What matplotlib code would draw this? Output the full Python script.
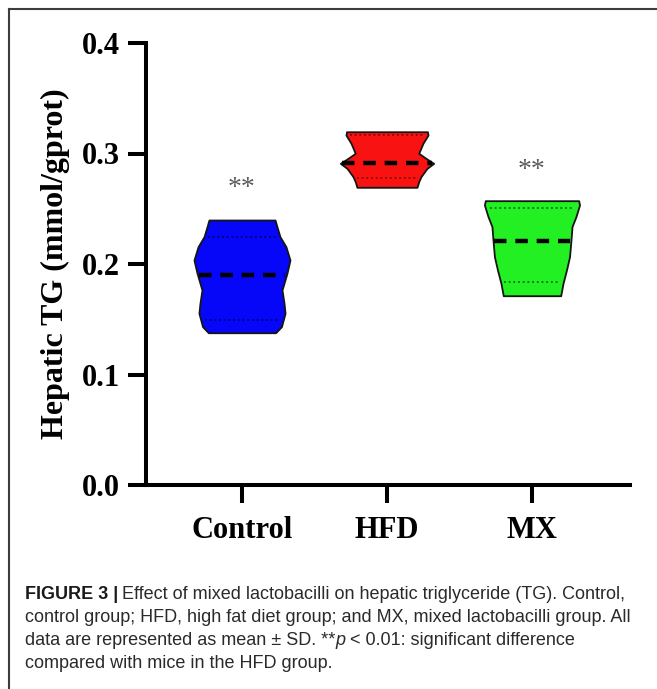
import numpy as np
import matplotlib
matplotlib.use("Agg")
import matplotlib.pyplot as plt
from matplotlib.lines import Line2D

groups = ["Control", "HFD", "MX"]
fillColors = ["#0606f8", "#f81212", "#22f022"]
dotColors = ["#00006a", "#8a0000", "#007400"]

# violin outlines: level (mmol/gprot) and half width (category units)
controlLevels = [0.2398, 0.2338, 0.2247, 0.2157, 0.2036, 0.1916, 0.1765, 0.1644, 0.1554, 0.1433, 0.1378]
controlHalfWidth = [0.228, 0.241, 0.262, 0.303, 0.331, 0.310, 0.276, 0.290, 0.297, 0.272, 0.232]
hfdLevels = [0.3197, 0.3167, 0.3092, 0.3002, 0.2956, 0.2911, 0.2866, 0.2790, 0.2745, 0.2694]
hfdHalfWidth = [0.279, 0.283, 0.248, 0.219, 0.269, 0.322, 0.276, 0.234, 0.219, 0.207]
mxLevels = [0.2573, 0.2534, 0.2428, 0.2338, 0.2217, 0.2066, 0.1946, 0.1825, 0.1713]
mxHalfWidth = [0.322, 0.328, 0.303, 0.276, 0.269, 0.259, 0.238, 0.214, 0.198]

medians = [0.190, 0.291, 0.221]
lowerQuartiles = [0.149, 0.2775, 0.184]
upperQuartiles = [0.2245, 0.3167, 0.2507]
starLabels = ["**", "", "**"]
starY = [0.262, 0.0, 0.279]
yTicks = [0.0, 0.1, 0.2, 0.3, 0.4]

levels = [controlLevels, hfdLevels, mxLevels]
halfWidths = [controlHalfWidth, hfdHalfWidth, mxHalfWidth]

plt.rcParams['font.family'] = ['Liberation Serif', 'DejaVu Serif']
plt.rcParams['font.weight'] = 'bold'

W, H = 657, 689
fig = plt.figure(figsize=(W / 100, H / 100), dpi=100)
ax = fig.add_axes([146 / W, 1 - 485 / H, 484 / W, 442 / H])

for i in range(len(groups)):
    lev = np.array(levels[i])
    hw = np.array(halfWidths[i])
    ax.fill_betweenx(lev, i - hw, i + hw, facecolor=fillColors[i], edgecolor="#151515",
                     linewidth=1.3, joinstyle='round', zorder=2)
    for q in (lowerQuartiles[i], upperQuartiles[i]):
        w = np.interp(q, lev[::-1], hw[::-1]) * 0.9
        ax.plot([i - w, i + w], [q, q], color=dotColors[i], lw=1.3, linestyle=(0, (1, 1.6)), zorder=3)
    w = np.interp(medians[i], lev[::-1], hw[::-1]) * 0.97
    ax.plot([i - w, i + w], [medians[i], medians[i]], color="black", lw=3.2,
            linestyle=(0, (2.8, 2.0)), dash_capstyle='butt', zorder=4)
    if starLabels[i]:
        ax.text(i, starY[i], starLabels[i], ha='center', va='baseline', fontsize=20,
                fontweight='normal', color='#5a5a5a')

ax.set_xlim(-0.662, 2.676)
ax.set_ylim(0, 0.4)
ax.set_xticks(range(len(groups)))
ax.set_xticklabels(groups)
ax.set_yticks(yTicks)
ax.set_yticklabels([f"{v:.1f}" for v in yTicks])
for side in ("top", "right"):
    ax.spines[side].set_visible(False)
for side in ("left", "bottom"):
    ax.spines[side].set_linewidth(2.9)
    ax.spines[side].set_capstyle('projecting')
ax.tick_params(axis="both", which="both", direction="out", length=13, width=2.9, labelsize=22)
ax.tick_params(axis="y", pad=5.5)
ax.tick_params(axis="x", pad=9)
ax.set_ylabel("Hepatic TG (mmol/gprot)", fontsize=23, fontweight='bold')
ax.yaxis.set_label_coords(-0.157, 0.5)

# panel frame
fig.add_artist(Line2D([8.5 / W, 1], [1 - 8.5 / H, 1 - 8.5 / H], transform=fig.transFigure,
                      color="#3c3c3c", lw=1.5))
fig.add_artist(Line2D([8.5 / W, 8.5 / W], [0, 1 - 8.5 / H], transform=fig.transFigure,
                      color="#3c3c3c", lw=1.5))

# caption
capFont = dict(family=['Liberation Sans Narrow', 'Liberation Sans', 'DejaVu Sans'], fontsize=13, color="#2a2a2a")
def chain(prev, txt, gap=0, **kw):
    style = dict(capFont, fontweight='normal')
    style.update(kw)
    return ax.annotate(txt, xy=(1, 0), xycoords=prev, xytext=(gap, 0), textcoords='offset points',
                       ha='left', va='bottom', annotation_clip=False, **style)

baselines = [599, 622, 645, 668]
t = fig.text(25 / W, 1 - baselines[0] / H, "FIGURE 3 |", ha='left', va='baseline',
             **dict(capFont, fontweight='bold', color="#1a1a1a"))
chain(t, "Effect of mixed lactobacilli on hepatic triglyceride (TG). Control,", gap=3)
fig.text(25 / W, 1 - baselines[1] / H,
         "control group; HFD, high fat diet group; and MX, mixed lactobacilli group. All",
         ha='left', va='baseline', **dict(capFont, fontweight='normal'))
t = fig.text(25 / W, 1 - baselines[2] / H, "data are represented as mean \u00b1 SD. **",
             ha='left', va='baseline', **dict(capFont, fontweight='normal'))
t = chain(t, "p", style='italic')
chain(t, "< 0.01: significant difference", gap=3)
fig.text(25 / W, 1 - baselines[3] / H, "compared with mice in the HFD group.",
         ha='left', va='baseline', **dict(capFont, fontweight='normal'))

fig.savefig("out.png", dpi=100)
